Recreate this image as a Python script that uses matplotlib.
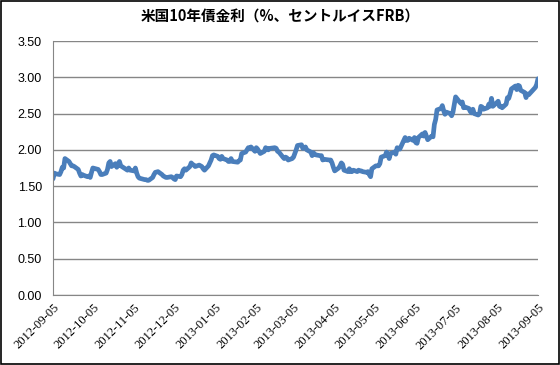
import matplotlib.pyplot as plt
import matplotlib.dates as mdates
import numpy as np
import pandas as pd

# US 10-year treasury yield, business days 2012-09-05 .. 2013-09-05
holidays = ['2012-10-08', '2012-10-29', '2012-10-30', '2012-11-12', '2012-11-22',
            '2012-12-25', '2013-01-01', '2013-01-21', '2013-02-18', '2013-03-29',
            '2013-05-27', '2013-07-04', '2013-09-02']

y_2012_09 = [1.60, 1.68, 1.67, 1.66, 1.70, 1.76, 1.75, 1.88, 1.84, 1.81, 1.78, 1.78,
             1.77, 1.73, 1.68, 1.64, 1.66, 1.65]
y_2012_10 = [1.63, 1.64, 1.62, 1.69, 1.75, 1.73, 1.70, 1.66, 1.66, 1.68, 1.73, 1.82,
             1.84, 1.77, 1.81, 1.76, 1.80, 1.84, 1.78, 1.72]
y_2012_11 = [1.75, 1.72, 1.71, 1.75, 1.68, 1.63, 1.61, 1.59, 1.59, 1.58, 1.58, 1.62,
             1.66, 1.69, 1.70, 1.66, 1.64, 1.63, 1.62, 1.62]
y_2012_12 = [1.63, 1.62, 1.60, 1.59, 1.64, 1.63, 1.66, 1.72, 1.74, 1.72, 1.77, 1.82,
             1.80, 1.79, 1.77, 1.79, 1.77, 1.74, 1.72, 1.78]
y_2013_01 = [1.86, 1.92, 1.93, 1.91, 1.88, 1.87, 1.91, 1.88, 1.86, 1.84, 1.84, 1.88,
             1.84, 1.83, 1.85, 1.86, 1.95, 1.97, 2.00, 2.03, 2.02]
y_2013_02 = [2.04, 1.98, 2.03, 2.01, 1.98, 1.95, 1.98, 2.03, 2.02, 2.00, 2.02, 2.03,
             2.02, 1.98, 1.97, 1.90, 1.88, 1.90, 1.89]
y_2013_03 = [1.86, 1.88, 1.90, 1.95, 2.00, 2.06, 2.07, 2.02, 2.03, 2.04, 2.00, 1.97,
             1.92, 1.96, 1.94, 1.93, 1.92, 1.92, 1.86, 1.87]
y_2013_04 = [1.86, 1.86, 1.82, 1.76, 1.71, 1.75, 1.78, 1.82, 1.80, 1.72, 1.70, 1.74,
             1.70, 1.70, 1.72, 1.70, 1.72, 1.71, 1.71, 1.70, 1.69, 1.70]
y_2013_05 = [1.66, 1.63, 1.74, 1.78, 1.78, 1.78, 1.81, 1.90, 1.92, 1.97, 1.94, 1.88,
             1.95, 1.97, 1.94, 2.03, 2.02, 2.01, 2.17, 2.13, 2.13, 2.16]
y_2013_06 = [2.13, 2.17, 2.10, 2.09, 2.17, 2.22, 2.19, 2.24, 2.19, 2.14, 2.19, 2.18,
             2.35, 2.42, 2.55, 2.57, 2.61, 2.54, 2.49, 2.52]
y_2013_07 = [2.50, 2.47, 2.52, 2.73, 2.66, 2.64, 2.66, 2.58, 2.59, 2.57, 2.53, 2.51,
             2.56, 2.50, 2.48, 2.50, 2.60, 2.59, 2.56, 2.58, 2.63, 2.60]
y_2013_08 = [2.71, 2.60, 2.65, 2.67, 2.60, 2.60, 2.58, 2.63, 2.72, 2.71, 2.77, 2.84,
             2.88, 2.83, 2.89, 2.88, 2.82, 2.79, 2.72, 2.77, 2.76, 2.78]
y_2013_09 = [2.86, 2.90, 2.98]

yields = (y_2012_09 + y_2012_10 + y_2012_11 + y_2012_12 + y_2013_01 + y_2013_02 +
          y_2013_03 + y_2013_04 + y_2013_05 + y_2013_06 + y_2013_07 + y_2013_08 +
          y_2013_09)

days = pd.bdate_range('2012-09-05', '2013-09-05')
days = days[~days.isin(pd.to_datetime(holidays))]

tick_dates = pd.date_range('2012-09-01', '2013-09-01', freq='MS') + pd.Timedelta(days=4)
yticks = np.arange(0, 3.51, 0.5)

fig = plt.figure(figsize=(5.6, 3.65), dpi=100)
fig.patches.append(plt.Rectangle((0.001, 0.002), 0.997, 0.996, transform=fig.transFigure,
                                 fill=False, edgecolor='black', linewidth=1.2))
ax = fig.add_axes([53 / 560, 1 - 295 / 365, 485 / 560, 254 / 365])

ax.plot(days, yields, color='#4A7EBB', linewidth=3.4, solid_capstyle='round')

ax.set_ylim(0, 3.5)
ax.set_yticks(yticks)
ax.set_yticklabels([f'{v:.2f}' for v in yticks], fontfamily='Liberation Sans', fontsize=9)
ax.set_xlim(tick_dates[0], tick_dates[-1])
ax.set_xticks(tick_dates)
ax.xaxis.set_major_formatter(mdates.DateFormatter('%Y-%m-%d'))
for lab in ax.get_xticklabels():
    lab.set_rotation(45)
    lab.set_ha('right')
    lab.set_rotation_mode('anchor')
    lab.set_fontfamily('Liberation Serif')
    lab.set_fontsize(9)
ax.tick_params(length=0, pad=8)
ax.tick_params(axis='x', pad=5)

ax.grid(axis='y', color='#868686', linewidth=1)
ax.set_axisbelow(True)
for s in ['top', 'right']:
    ax.spines[s].set_visible(False)
ax.spines['left'].set_color('#868686')
ax.spines['bottom'].set_color('#868686')

fig.text(0.5, 1 - 17 / 365, '米国10年債金利（%、セントルイスFRB）', ha='center', va='center',
         fontsize=10.5, fontweight='bold', family=['Noto Sans CJK JP', 'DejaVu Sans'])

fig.savefig('out.png', dpi=100)
